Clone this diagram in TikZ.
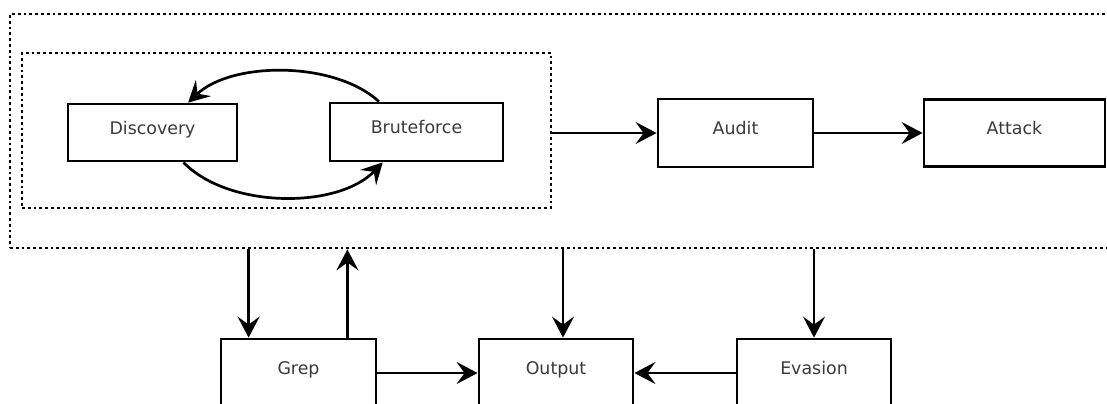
\documentclass[tikz,border=0pt]{standalone}
\usepackage{fontspec}
\setmainfont{DejaVu Sans}
\usetikzlibrary{arrows.meta,calc}
\definecolor{txtgray}{HTML}{3a3a3a}
\tikzset{
  box/.style={draw=black, line width=1.4pt, fill=white, inner sep=0pt,
    text height=6pt, text depth=4.5pt, text=txtgray,
    font=\fontsize{8.7pt}{10pt}\selectfont},
  dotbox/.style={draw=black, line width=1.4pt, line cap=butt,
    dash pattern=on 1.4pt off 1.5pt, inner sep=0pt},
  arr/.style={line width=1.35pt, -{Stealth[length=10.5pt,width=11pt,inset=4pt]}},
}
\begin{document}
\begin{tikzpicture}[x=0.5pt,y=-0.5pt]
\clip (0,0) rectangle (1107,403);
\fill[white] (0,0) rectangle (1107,403);
% dotted frames
\node[dotbox, minimum width=557.5pt, minimum height=117pt] (outer) at (567.5,131) {};
\node[dotbox, minimum width=264.5pt, minimum height=77.5pt] (inner) at (286.5,130.5) {};
% boxes
\node[box, minimum width=84.5pt, minimum height=28.5pt] (disc) at (152.5,132.5) {Discovery};
\node[box, minimum width=86.5pt, minimum height=29pt] (bf) at (416.5,132) {Bruteforce};
\node[box, minimum width=77.5pt, minimum height=34pt] (audit) at (735.5,133) {Audit};
\node[box, minimum width=90.5pt, minimum height=33.5pt] (attack) at (1014.5,133) {Attack};
\node[box, minimum width=77.5pt, minimum height=34pt] (grep) at (298.5,373) {Grep};
\node[box, minimum width=77pt, minimum height=34pt] (output) at (556,373) {Output};
\node[box, minimum width=77pt, minimum height=34pt] (evasion) at (814,373) {Evasion};
% loop between Discovery and Bruteforce
\draw[arr] (bf.141) .. controls (335,61) and (232,61) .. (disc.40);
\draw[arr] (disc.-44) .. controls (229,209) and (338,209) .. (bf.222);
% top row
\draw[arr] (inner.east |- audit.west) -- (audit.west);
\draw[arr] (audit.east) -- (attack.west);
% vertical connectors
\draw[arr] ([xshift=14.5pt]grep.north west |- outer.south) -- ([xshift=14.5pt]grep.north west);
\draw[arr] ([xshift=-15pt]grep.north east) -- ([xshift=-15pt]grep.north east |- outer.south);
\draw[arr] ([xshift=3.5pt]output.north |- outer.south) -- ([xshift=3.5pt]output.north);
\draw[arr] (evasion.north |- outer.south) -- (evasion.north);
% bottom row
\draw[arr] (grep.east) -- (output.west);
\draw[arr] (evasion.west) -- (output.east);
\end{tikzpicture}
\end{document}
